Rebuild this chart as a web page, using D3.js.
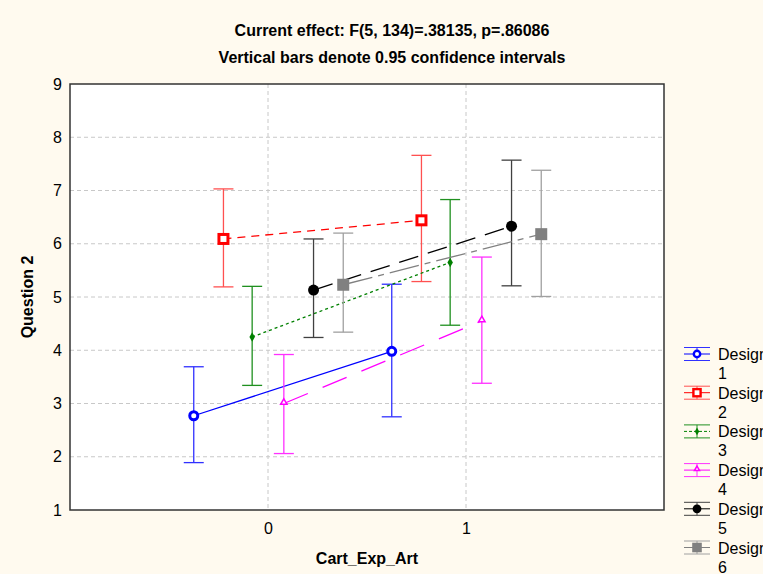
<!DOCTYPE html>
<html>
<head>
<meta charset="utf-8">
<script src="https://cdn.jsdelivr.net/npm/d3@7"></script>
<style>
  body { margin: 0; background: #fffaef; }
  text { font-family: "Liberation Sans", Arial, sans-serif; }
</style>
</head>
<body>
<script>
// Cart_Exp_Art levels and the six designs
var levels = [0, 1]
var designs = ['Design 1', 'Design 2', 'Design 3', 'Design 4', 'Design 5', 'Design 6']

// means per design at level 0 and level 1
var means = [
  [2.77, 3.98],
  [6.09, 6.44],
  [4.25, 5.65],
  [3.00, 4.55],
  [5.13, 6.33],
  [5.23, 6.18]
]
// 0.95 CI lower / upper
var lower = [
  [1.89, 2.75],
  [5.19, 5.29],
  [3.34, 4.47],
  [2.06, 3.38],
  [4.24, 5.21],
  [4.34, 5.01]
]
var upper = [
  [3.69, 5.24],
  [7.03, 7.66],
  [5.20, 6.83],
  [3.92, 5.75],
  [6.09, 7.57],
  [6.20, 7.38]
]
var yTicks = [1, 2, 3, 4, 5, 6, 7, 8, 9]

var W = 763, H = 574
var margin = { top: 84, right: 99, bottom: 64, left: 70 }
var width = W - margin.left - margin.right
var height = H - margin.top - margin.bottom

// per-design horizontal offset so the bars do not overlap
var offsets = [-0.375, -0.225, -0.08, 0.08, 0.23, 0.38]
var colors = ['#0000ff', '#ff0000', '#008000', '#ff00ff', '#000000', '#808080']
var barColors = ['#3030ff', '#ff5050', '#209020', '#ff30ff', '#404040', '#a0a0a0']
var dashes = [null, '8,6', '3,3', '26,16', '20,10', '30,6,6,6']

var x = d3.scaleLinear().domain([-1, 2]).range([0, width])
var y = d3.scaleLinear().domain([1, 9]).range([height, 0])

var svg = d3.select('body').append('svg')
  .attr('width', W)
  .attr('height', H)

svg.append('rect').attr('width', W).attr('height', H).attr('fill', '#fffaef')

svg.append('text').attr('x', 392).attr('y', 36)
  .attr('text-anchor', 'middle').attr('font-size', 16).attr('font-weight', 'bold')
  .text('Current effect: F(5, 134)=.38135, p=.86086')
svg.append('text').attr('x', 392).attr('y', 63)
  .attr('text-anchor', 'middle').attr('font-size', 16).attr('font-weight', 'bold')
  .text('Vertical bars denote 0.95 confidence intervals')

var g = svg.append('g')
  .attr('transform', 'translate(' + margin.left + ',' + margin.top + ')')

g.append('rect').attr('width', width).attr('height', height).attr('fill', '#fff')

// grid
g.append('g').selectAll('line')
  .data(yTicks.slice(1, -1))
  .enter().append('line')
  .attr('x1', 0).attr('x2', width)
  .attr('y1', function (d) { return y(d) }).attr('y2', function (d) { return y(d) })
  .attr('stroke', '#c8c8c8').attr('stroke-dasharray', '4,3')
g.append('g').selectAll('line')
  .data(levels)
  .enter().append('line')
  .attr('y1', 0).attr('y2', height)
  .attr('x1', function (d) { return x(d) }).attr('x2', function (d) { return x(d) })
  .attr('stroke', '#c8c8c8').attr('stroke-dasharray', '4,3')

// axes
g.append('g')
  .attr('transform', 'translate(0,' + height + ')')
  .call(d3.axisBottom(x).tickValues(levels).tickFormat(d3.format('d')).tickSize(0).tickPadding(13))
  .call(function (a) { a.select('.domain').remove() })
  .selectAll('text').attr('font-size', 16).attr('fill', '#000').style('font-family', '"Liberation Sans", Arial, sans-serif')
g.append('g')
  .call(d3.axisLeft(y).tickValues(yTicks).tickSize(0).tickPadding(8))
  .call(function (a) { a.select('.domain').remove() })
  .selectAll('text').attr('font-size', 16).attr('fill', '#000').style('font-family', '"Liberation Sans", Arial, sans-serif')

g.append('rect').attr('width', width).attr('height', height)
  .attr('fill', 'none').attr('stroke', '#333').attr('stroke-width', 1.5)

g.append('text').attr('x', x(0.5)).attr('y', height + 54)
  .attr('text-anchor', 'middle').attr('font-size', 16).attr('font-weight', 'bold')
  .text('Cart_Exp_Art')
g.append('text').attr('transform', 'translate(-37,' + y(5) + ') rotate(-90)')
  .attr('text-anchor', 'middle').attr('font-size', 16).attr('font-weight', 'bold')
  .text('Question 2')

function marker (sel, i, cx, cy, scale) {
  var c = colors[i]
  var s = scale || 1
  if (i === 0) {
    sel.append('circle').attr('cx', cx).attr('cy', cy).attr('r', 4 * s)
      .attr('fill', '#fff').attr('stroke', c).attr('stroke-width', 3 * s)
  } else if (i === 1) {
    sel.append('rect').attr('x', cx - 4.5 * s).attr('y', cy - 4.5 * s).attr('width', 9 * s).attr('height', 9 * s)
      .attr('fill', '#fff').attr('stroke', c).attr('stroke-width', 3 * s)
  } else if (i === 2) {
    sel.append('path').attr('d', d3.symbol(d3.symbolDiamond, 26 * s * s)())
      .attr('transform', 'translate(' + cx + ',' + cy + ')').attr('fill', c)
  } else if (i === 3) {
    sel.append('path').attr('d', d3.symbol(d3.symbolTriangle, 18 * s * s)())
      .attr('transform', 'translate(' + cx + ',' + (cy - 1) + ')')
      .attr('fill', '#fff').attr('stroke', c).attr('stroke-width', 1.5)
  } else if (i === 4) {
    sel.append('circle').attr('cx', cx).attr('cy', cy).attr('r', 5.5 * s).attr('fill', c)
  } else {
    sel.append('rect').attr('x', cx - 6 * s).attr('y', cy - 6 * s).attr('width', 12 * s).attr('height', 12 * s)
      .attr('fill', c)
  }
}

designs.forEach(function (name, i) {
  var pts = levels.map(function (l, k) {
    return { x: x(l + offsets[i]), m: y(means[i][k]), lo: y(lower[i][k]), hi: y(upper[i][k]) }
  })
  var s = g.append('g')
  pts.forEach(function (p) {
    s.append('line').attr('x1', p.x).attr('x2', p.x).attr('y1', p.lo).attr('y2', p.hi)
      .attr('stroke', barColors[i]).attr('stroke-width', 1.3)
    ;[p.lo, p.hi].forEach(function (yy) {
      s.append('line').attr('x1', p.x - 10).attr('x2', p.x + 10).attr('y1', yy).attr('y2', yy)
        .attr('stroke', barColors[i]).attr('stroke-width', 1.3)
    })
  })
  s.append('path')
    .attr('d', d3.line().x(function (p) { return p.x }).y(function (p) { return p.m })(pts))
    .attr('fill', 'none').attr('stroke', colors[i]).attr('stroke-width', 1.3)
    .attr('stroke-dasharray', dashes[i])
  pts.forEach(function (p) { marker(s, i, p.x, p.m) })
})

// legend
var leg = svg.append('g').attr('transform', 'translate(684,354)')
designs.forEach(function (name, i) {
  var row = leg.append('g').attr('transform', 'translate(0,' + (i * 38.7) + ')')
  row.append('line').attr('x1', 0).attr('x2', 26).attr('y1', -6.5).attr('y2', -6.5).attr('stroke', barColors[i])
  row.append('line').attr('x1', 0).attr('x2', 26).attr('y1', 6.5).attr('y2', 6.5).attr('stroke', barColors[i])
  row.append('line').attr('x1', 13).attr('x2', 13).attr('y1', -6.5).attr('y2', 6.5).attr('stroke', barColors[i])
  row.append('line').attr('x1', 0).attr('x2', 26).attr('y1', 0).attr('y2', 0)
    .attr('stroke', colors[i]).attr('stroke-dasharray', i === 2 ? '3,2' : null)
  marker(row, i, 13, 0, 0.8)
  var parts = name.split(' ')
  row.append('text').attr('x', 34).attr('y', 6).attr('font-size', 16).text(parts[0])
  row.append('text').attr('x', 34).attr('y', 25).attr('font-size', 16).text(parts[1])
})
</script>
</body>
</html>
